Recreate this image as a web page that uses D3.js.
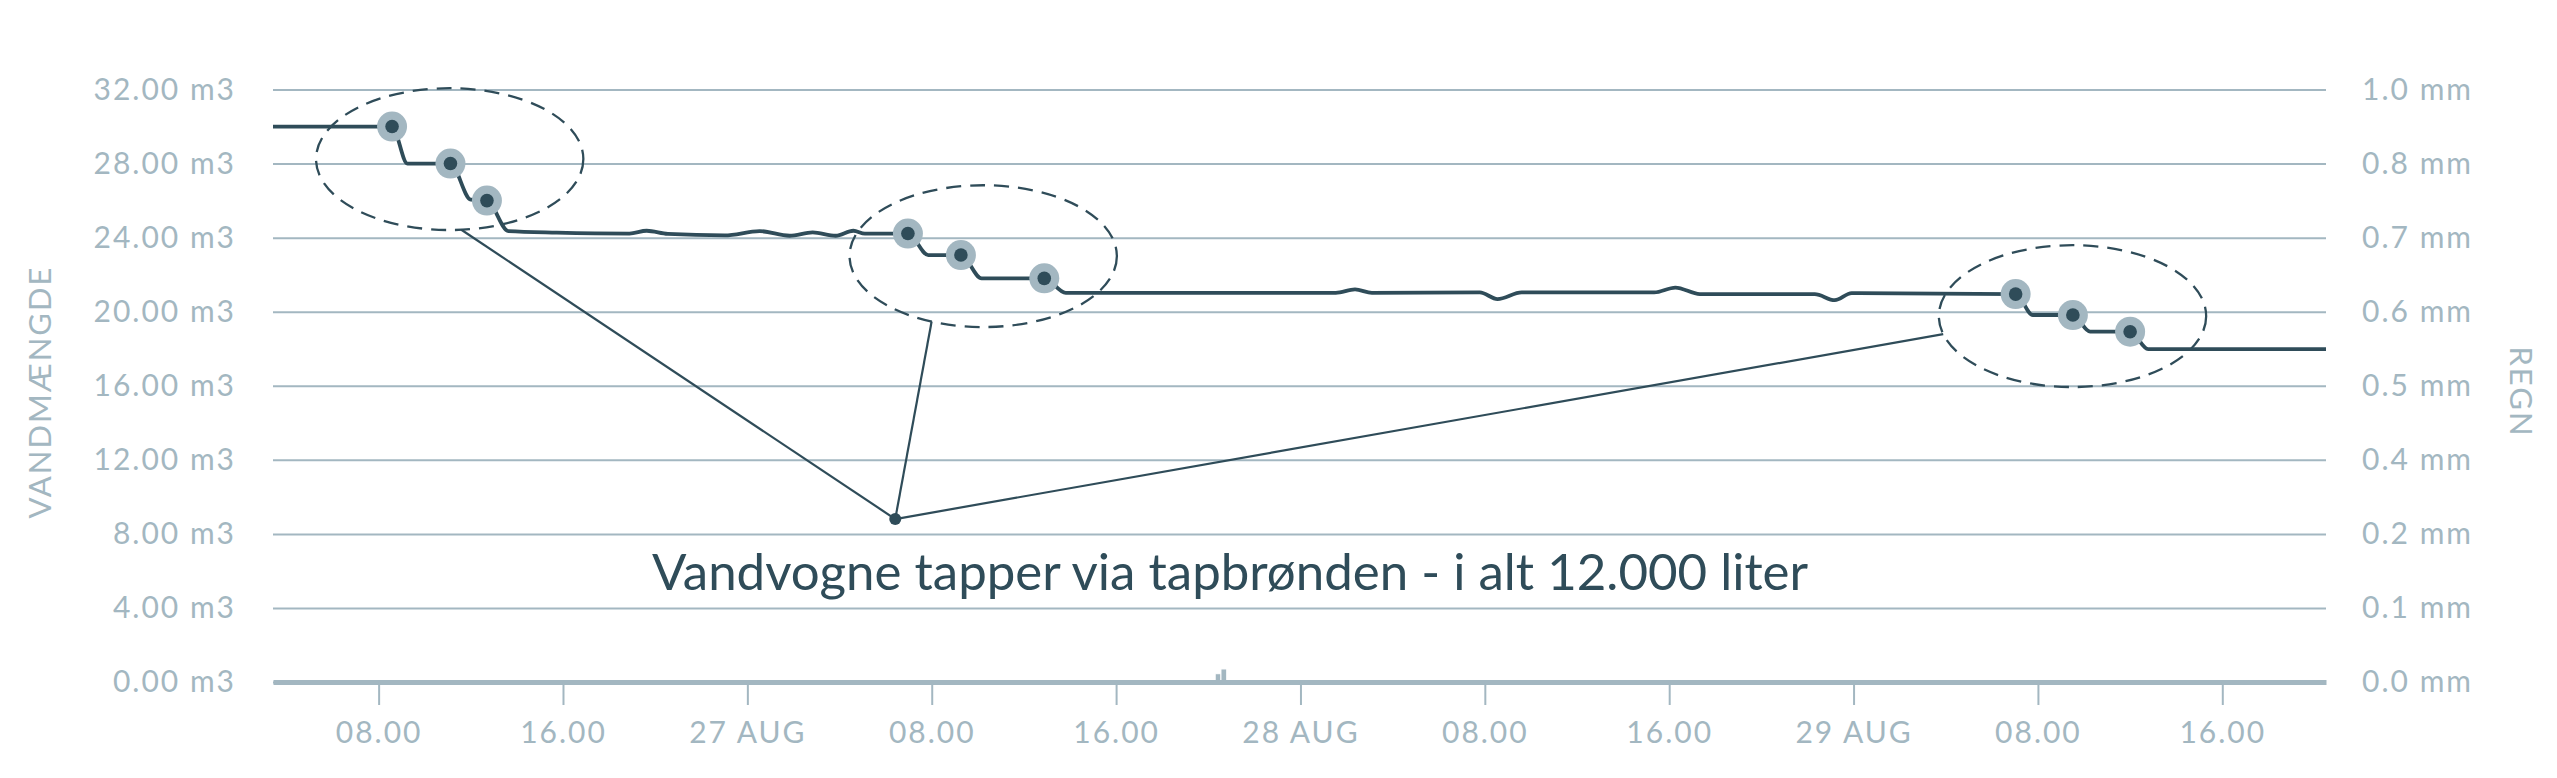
<!DOCTYPE html>
<html>
<head>
<meta charset="utf-8">
<script src="https://cdnjs.cloudflare.com/ajax/libs/d3/7.8.5/d3.min.js"></script>
<style>
  body { margin: 0; background: #fff; }
  svg { display: block; font-family: Lato, "Noto Sans", sans-serif; }
  .lbl { fill: #a3b7c1; font-size: 30px; font-weight: 400; letter-spacing: 2px; }
</style>
</head>
<body>
<svg id="chart" width="2557" height="778"></svg>
<script>
// water level (m3) over time
let times = [
  '2019-08-26 03:25', '2019-08-26 08:35', '2019-08-26 09:15', '2019-08-26 11:07',
  '2019-08-26 12:00', '2019-08-26 12:42', '2019-08-26 13:38', '2019-08-26 15:44',
  '2019-08-26 18:53', '2019-08-26 19:38', '2019-08-26 20:33', '2019-08-26 23:01',
  '2019-08-27 00:32', '2019-08-27 01:50', '2019-08-27 02:50', '2019-08-27 03:50',
  '2019-08-27 04:36', '2019-08-27 05:06', '2019-08-27 06:58', '2019-08-27 07:51',
  '2019-08-27 09:16', '2019-08-27 10:10', '2019-08-27 12:53', '2019-08-27 13:49',
  '2019-08-28 01:32', '2019-08-28 02:22', '2019-08-28 03:06', '2019-08-28 07:47',
  '2019-08-28 08:33', '2019-08-28 09:36', '2019-08-28 15:21', '2019-08-28 16:16',
  '2019-08-28 17:20', '2019-08-28 22:19', '2019-08-28 23:11', '2019-08-28 23:55',
  '2019-08-29 07:02', '2019-08-29 07:47', '2019-08-29 09:31', '2019-08-29 10:16',
  '2019-08-29 12:00', '2019-08-29 12:47', '2019-08-29 20:30'
]
let volume = [
  30.0, 30.0, 28.0, 28.0,
  26.05, 26.0, 24.35, 24.27,
  24.22, 24.37, 24.2, 24.12,
  24.35, 24.1, 24.28, 24.1,
  24.37, 24.22, 24.22, 23.06,
  23.06, 21.8, 21.8, 21.02,
  21.02, 21.2, 21.02, 21.04,
  20.68, 21.04, 21.04, 21.3,
  20.95, 20.95, 20.62, 21.0,
  20.95, 19.82, 19.82, 18.92,
  18.92, 17.98, 17.98
]
// which readings get a highlighted marker
let marked = [1, 3, 5, 18, 20, 22, 36, 38, 40]

// rain (mm), 15 minute buckets
let rainTimes = ['2019-08-27 20:18', '2019-08-27 20:33']
let rain = [0.014, 0.022]

let leftTicks = [0, 4, 8, 12, 16, 20, 24, 28, 32]
let rightTicks = [0, 0.125, 0.25, 0.375, 0.5, 0.625, 0.75, 0.875, 1]
let rightLabels = ['0.0 mm', '0.1 mm', '0.2 mm', '0.4 mm', '0.5 mm', '0.6 mm', '0.7 mm', '0.8 mm', '1.0 mm']

// callouts: circled groups pointing to one label
let groups = [
  {t: '2019-08-26 11:05', v: 28.24, angle: 85},
  {t: '2019-08-27 10:14', v: 23.0, angle: 112.7},
  {t: '2019-08-29 09:30', v: 19.76, angle: 165.3}
]
let anchor = {t: '2019-08-27 06:25', v: 8.8}
let noteText = 'Vandvogne tapper via tapbrønden - i alt 12.000 liter'

let light = '#a3b7c1'
let dark = '#2f4c59'

let parse = d3.timeParse('%Y-%m-%d %H:%M')
let plotLeft = 273, plotRight = 2326, plotTop = 89.5, plotBottom = 682

let svg = d3.select('#chart')

let x = d3.scaleTime()
        .domain([parse('2019-08-26 03:25'), parse('2019-08-29 20:30')])
        .range([plotLeft, plotRight])
let y = d3.scaleLinear().domain([0, 32]).range([plotBottom, plotTop])
let yRain = d3.scaleLinear().domain([0, 1]).range([plotBottom, plotTop])

// grid + left labels
let gy = svg.append('g')
        .attr('transform', 'translate(' + plotLeft + ',0)')
        .call(d3.axisLeft(y)
          .tickValues(leftTicks)
          .tickSize(-(plotRight - plotLeft))
          .tickPadding(37)
          .tickFormat(d => d.toFixed(2) + ' m3'))
gy.select('.domain').remove()
gy.selectAll('line').attr('stroke', light).attr('stroke-width', 2)
gy.selectAll('text').attr('class', 'lbl')
gy.attr('font-family', null).attr('font-size', null)

// right labels
let gr = svg.append('g')
        .attr('transform', 'translate(' + plotRight + ',0)')
        .call(d3.axisRight(yRain)
          .tickValues(rightTicks)
          .tickSize(0)
          .tickFormat((d, i) => rightLabels[i]))
gr.select('.domain').remove()
gr.attr('font-family', null).attr('font-size', null)
gr.selectAll('text').attr('class', 'lbl').attr('text-anchor', 'end').attr('x', 147)

// rain bars
let barW = x(d3.timeMinute.offset(parse(rainTimes[0]), 15)) - x(parse(rainTimes[0]))
svg.append('g').selectAll('rect')
  .data(rain)
  .enter()
  .append('rect')
  .attr('x', (d, i) => x(parse(rainTimes[i])))
  .attr('y', d => yRain(d))
  .attr('width', barW)
  .attr('height', d => yRain(0) - yRain(d))
  .attr('fill', light)
  .attr('stroke', '#fff')
  .attr('stroke-width', 1)

// time axis
let fmt = d => d.getHours() === 0 ? d3.timeFormat('%-d')(d) + ' AUG' : d3.timeFormat('%H.%M')(d)
let gx = svg.append('g')
        .attr('transform', 'translate(0,' + plotBottom + ')')
        .call(d3.axisBottom(x)
          .ticks(d3.timeHour.every(8))
          .tickSize(23)
          .tickSizeOuter(0)
          .tickPadding(17)
          .tickFormat(fmt))
gx.attr('font-family', null).attr('font-size', null)
gx.select('.domain').attr('stroke', light).attr('stroke-width', 5)
gx.selectAll('.tick line').attr('stroke', light).attr('stroke-width', 2)
gx.selectAll('text').attr('class', 'lbl')

// axis titles
svg.append('text')
  .attr('class', 'lbl')
  .attr('transform', 'translate(51,392) rotate(-90)')
  .attr('text-anchor', 'middle')
  .style('font-size', '31px')
  .text('VANDMÆNGDE')
svg.append('text')
  .attr('class', 'lbl')
  .attr('transform', 'translate(2510,392) rotate(90)')
  .attr('text-anchor', 'middle')
  .style('font-size', '31px')
  .text('REGN')

// callout ellipses + connectors
let ax = x(parse(anchor.t)), ay = y(anchor.v)
let rx = x(d3.timeMinute.offset(parse(groups[0].t), 348)) - x(parse(groups[0].t))
let ry = y(0) - y(3.83)
groups.forEach(function(g) {
  let cx = x(parse(g.t)), cy = y(g.v)
  svg.append('ellipse')
    .attr('cx', cx).attr('cy', cy)
    .attr('rx', rx).attr('ry', ry)
    .attr('fill', 'none')
    .attr('stroke', dark)
    .attr('stroke-width', 2.3)
    .attr('stroke-dasharray', '15,9')
  let a = g.angle * Math.PI / 180
  svg.append('line')
    .attr('x1', cx + rx * Math.cos(a)).attr('y1', cy + ry * Math.sin(a))
    .attr('x2', ax).attr('y2', ay)
    .attr('stroke', dark)
    .attr('stroke-width', 2.2)
})
svg.append('circle').attr('cx', ax).attr('cy', ay).attr('r', 6).attr('fill', dark)

svg.append('text')
  .attr('x', 652)
  .attr('y', 590)
  .attr('fill', dark)
  .style('font-size', '51px')
  .style('font-weight', 400)
  .text(noteText)

// volume line
let pts = times.map((t, i) => [x(parse(t)), y(volume[i])])
svg.append('path')
  .attr('d', d3.line().curve(d3.curveMonotoneX)(pts))
  .attr('fill', 'none')
  .attr('stroke', dark)
  .attr('stroke-width', 3.8)

let mk = svg.append('g').selectAll('g')
        .data(marked)
        .enter()
        .append('g')
        .attr('transform', i => 'translate(' + pts[i][0] + ',' + pts[i][1] + ')')
mk.append('circle').attr('r', 15).attr('fill', light)
mk.append('circle').attr('r', 6.8).attr('fill', dark)
</script>
</body>
</html>
